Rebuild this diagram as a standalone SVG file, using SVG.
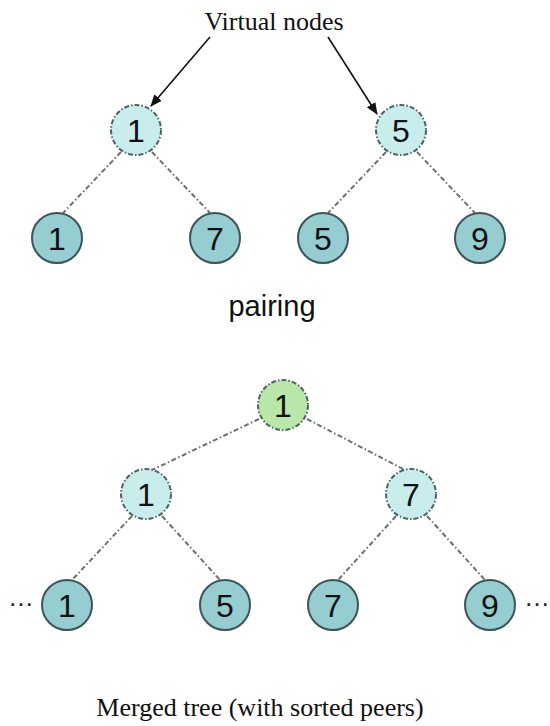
<svg xmlns="http://www.w3.org/2000/svg" width="550" height="726" viewBox="0 0 550 726">
  <defs>
    <marker id="arr" viewBox="0 0 12 10" refX="11" refY="5" markerWidth="12" markerHeight="10" markerUnits="userSpaceOnUse" orient="auto">
      <path d="M0,0 L12,5 L0,10 Z" fill="#111"/>
    </marker>
  </defs>
  <style>
    .leaf { fill: #95cdd1; stroke: #3c5557; stroke-width: 2; }
    .virt { fill: #c9ecec; stroke: #4f6364; stroke-width: 2; stroke-dasharray: 5 2 1.5 2; }
    .root { fill: #b9e6a9; stroke: #4f6364; stroke-width: 2; stroke-dasharray: 5 2 1.5 2; }
    .num { font-family: "Liberation Sans", Arial, sans-serif; font-size: 32px; fill: #111; text-anchor: middle; }
    .edge { stroke: #6a6f70; stroke-width: 2; stroke-dasharray: 5 2.5 1.5 2.5; fill: none; }
    .arrow { stroke: #111; stroke-width: 1.6; fill: none; marker-end: url(#arr); }
    .serif { font-family: "Liberation Serif", "Times New Roman", serif; font-size: 26px; fill: #111; text-anchor: middle; }
    .sans { font-family: "Liberation Sans", Arial, sans-serif; font-size: 29px; fill: #111; text-anchor: middle; }
    .dots { font-family: "Liberation Sans", Arial, sans-serif; font-size: 26px; fill: #222; text-anchor: middle; }
  </style>
  <rect width="550" height="726" fill="#ffffff"/>

  <g id="connectors">
    <line class="arrow" x1="210" y1="37" x2="151" y2="106"/>
    <line class="arrow" x1="328" y1="37" x2="377" y2="114"/>
    <line class="edge" x1="121" y1="152" x2="63" y2="213"/>
    <line class="edge" x1="152" y1="152" x2="210" y2="213"/>
    <line class="edge" x1="386" y1="152" x2="328" y2="213"/>
    <line class="edge" x1="417" y1="152" x2="475" y2="213"/>
    <line class="edge" x1="259" y1="419" x2="152" y2="470"/>
    <line class="edge" x1="307" y1="419" x2="405" y2="470"/>
    <line class="edge" x1="132" y1="516" x2="72" y2="580"/>
    <line class="edge" x1="162" y1="516" x2="220" y2="580"/>
    <line class="edge" x1="396" y1="516" x2="338" y2="580"/>
    <line class="edge" x1="427" y1="516" x2="485" y2="580"/>
  </g>

  <g id="label-virtual"><text class="serif" x="274" y="30">Virtual nodes</text></g>

  <g id="v1"><circle class="virt" cx="136" cy="130" r="25"/><text class="num" x="136" y="141.5">1</text></g>
  <g id="v5"><circle class="virt" cx="401" cy="130" r="25"/><text class="num" x="401" y="141.5">5</text></g>

  <g id="p1"><circle class="leaf" cx="57" cy="238" r="25"/><text class="num" x="57" y="249.5">1</text></g>
  <g id="p7"><circle class="leaf" cx="215" cy="238" r="25"/><text class="num" x="215" y="249.5">7</text></g>
  <g id="p5"><circle class="leaf" cx="323" cy="238" r="25"/><text class="num" x="323" y="249.5">5</text></g>
  <g id="p9"><circle class="leaf" cx="480" cy="238" r="25"/><text class="num" x="480" y="249.5">9</text></g>

  <g id="label-pairing"><text class="sans" x="272" y="316">pairing</text></g>

  <g id="root"><circle class="root" cx="283" cy="405" r="25"/><text class="num" x="283" y="416.5">1</text></g>
  <g id="m1"><circle class="virt" cx="146" cy="494" r="25"/><text class="num" x="146" y="505.5">1</text></g>
  <g id="m7"><circle class="virt" cx="411" cy="494" r="25"/><text class="num" x="411" y="505.5">7</text></g>

  <g id="l1"><circle class="leaf" cx="67" cy="605" r="25"/><text class="num" x="67" y="616.5">1</text></g>
  <g id="l5"><circle class="leaf" cx="225" cy="605" r="25"/><text class="num" x="225" y="616.5">5</text></g>
  <g id="l7"><circle class="leaf" cx="333" cy="605" r="25"/><text class="num" x="333" y="616.5">7</text></g>
  <g id="l9"><circle class="leaf" cx="490" cy="605" r="25"/><text class="num" x="490" y="616.5">9</text></g>

  <g id="dots-left"><text class="dots" x="21" y="606">…</text></g>
  <g id="dots-right"><text class="dots" x="537" y="606">…</text></g>

  <g id="label-merged"><text class="serif" x="260" y="716">Merged tree (with sorted peers)</text></g>
</svg>
